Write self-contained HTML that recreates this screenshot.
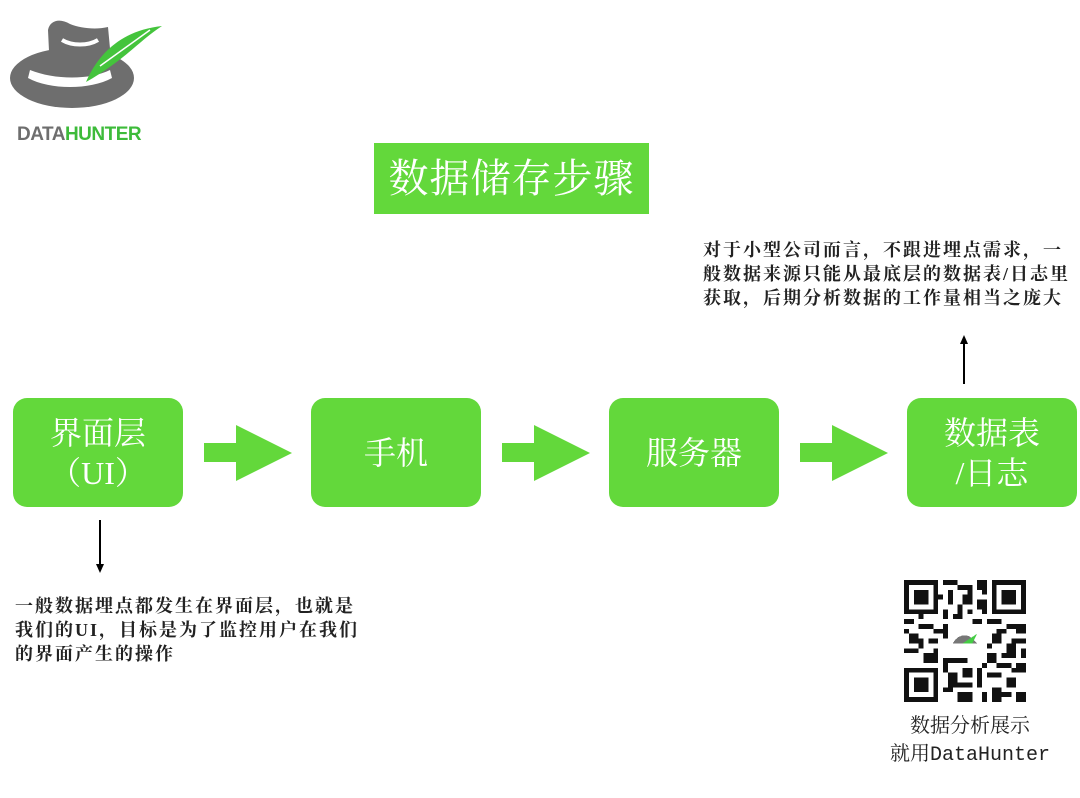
<!DOCTYPE html>
<html><head><meta charset="utf-8"><style>
body{margin:0;width:1080px;height:798px;background:#fff;position:relative;overflow:hidden;font-family:"Liberation Serif","Noto Serif CJK SC",serif;}
.box{position:absolute;background:#63d83b;border-radius:14px;color:#fff;display:flex;align-items:center;justify-content:center;text-align:center;font-size:32px;line-height:40px;width:170px;height:109px;top:398px}
.arr{position:absolute;top:425px;width:88px;height:56px}
.t{position:absolute;font-size:18px;letter-spacing:2px;line-height:24px;font-weight:bold;color:#222;white-space:nowrap}
</style></head><body>
<svg style="position:absolute;left:0;top:0" width="170" height="120" viewBox="0 0 170 120">
<ellipse cx="72" cy="78" rx="62" ry="30" fill="#6e6e6e"/>
<path d="M48 30 C50 20 60 18 70 24 C80 28 95 30 108 27 L112 70 L50 72Z" fill="#6e6e6e"/>
<path d="M28 78 C50 90 90 90 112 78 L110 70 C90 80 55 80 30 70Z" fill="#fff"/>
<path d="M62 40 C72 46 88 46 98 40" stroke="#fff" stroke-width="4" fill="none"/>
<path d="M86 82 C100 50 125 30 162 26 C140 40 125 60 86 82Z" fill="#44c43c"/>
<path d="M100 66 L150 30" stroke="#fff" stroke-width="1.5"/>
</svg>
<div style="position:absolute;left:17px;top:124px;font-family:'Liberation Sans',sans-serif;font-weight:bold;font-size:19px;letter-spacing:-0.5px"><span style="color:#6e6e6e">DATA</span><span style="color:#3dbb3a">HUNTER</span></div>
<div style="position:absolute;left:374px;top:143px;width:275px;height:71px;background:#63d83b;color:#fff;font-size:40px;line-height:71px;text-align:center;letter-spacing:1px">数据储存步骤</div>
<div class="box" style="left:13px">界面层<br>（UI）</div>
<div class="box" style="left:311px">手机</div>
<div class="box" style="left:609px">服务器</div>
<div class="box" style="left:907px">数据表<br>/日志</div>
<svg class="arr" style="left:204px" viewBox="0 0 88 56"><path d="M0 18H32V0L88 28L32 56V37H0Z" fill="#63d83b"/></svg>
<svg class="arr" style="left:502px" viewBox="0 0 88 56"><path d="M0 18H32V0L88 28L32 56V37H0Z" fill="#63d83b"/></svg>
<svg class="arr" style="left:800px" viewBox="0 0 88 56"><path d="M0 18H32V0L88 28L32 56V37H0Z" fill="#63d83b"/></svg>
<svg style="position:absolute;left:0;top:0" width="1080" height="798"><line x1="100" y1="520" x2="100" y2="566" stroke="#000" stroke-width="2"/><path d="M96 564L100 573L104 564Z"/>
<line x1="964" y1="384" x2="964" y2="342" stroke="#000" stroke-width="2"/><path d="M960 344L964 335L968 344Z"/></svg>
<div class="t" style="left:703px;top:238px">对于小型公司而言，不跟进埋点需求，一<br>般数据来源只能从最底层的数据表/日志里<br>获取，后期分析数据的工作量相当之庞大</div>
<div class="t" style="left:15px;top:594px">一般数据埋点都发生在界面层，也就是<br>我们的UI，目标是为了监控用户在我们<br>的界面产生的操作</div>
<svg style="position:absolute;left:904px;top:580px" width="122" height="122" viewBox="0 0 25 25" shape-rendering="crispEdges">
<rect width="25" height="25" fill="#fff"/>
<g fill="#111"><path d="M0 0h7v7H0zM18 0h7v7h-7zM0 18h7v7H0z"/></g>
<g fill="#fff"><path d="M1 1h5v5H1zM19 1h5v5h-5zM1 19h5v5H1z"/></g>
<g fill="#111"><path d="M2 2h3v3H2zM20 2h3v3h-3zM2 20h3v3H2z"/>
<path d="M8 0h2v1H8zM11 1h3v1h-3zM9 2h1v3H9zM12 3h2v2h-2zM15 0h2v2h-2zM15 4h2v2h-2zM8 6h1v2H8zM10 7h2v1h-2zM0 8h2v1H0zM3 9h3v1H3zM1 11h2v2H1zM5 12h2v1H5zM0 14h3v1H0zM4 15h3v2H4zM8 9h1v3H8zM17 8h3v1h-3zM21 9h4v1h-4zM18 11h2v2h-2zM22 12h3v1h-3zM17 15h2v2h-2zM20 15h3v1h-3zM23 17h2v2h-2zM8 16h3v1H8zM12 18h2v2h-2zM9 19h2v3H9zM15 18h1v4h-1zM17 19h3v1h-3zM21 20h2v2h-2zM18 22h2v3h-2zM11 23h3v2h-3zM23 23h2v2h-2zM14 8h2v1h-2zM11 16h2v1h-2z
M10 0h1v1h-1zM13 2h1v1h-1zM16 2h1v1h-1zM7 3h1v1H7zM11 5h1v2h-1zM13 6h1v1h-1zM16 6h1v1h-1zM3 7h1v1H3zM6 10h2v1H6zM0 10h1v1H0zM3 12h1v2H3zM6 14h1v1H6zM19 10h2v1h-2zM23 10h2v1h-2zM17 13h1v1h-1zM21 13h2v2h-2zM24 14h1v2h-1zM19 17h3v1h-3zM8 17h1v2H8zM11 21h3v1h-3zM16 17h1v1h-1zM16 23h1v2h-1zM20 23h2v1h-2zM22 18h1v1h-1zM13 21h1v1h-1zM8 22h2v1H8z"/></g>
<rect x="9" y="9" width="7" height="7" fill="#fff"/><path d="M10 13 C11 11 13 11 14 12 L15 13 Z" fill="#777"/><path d="M12 13 L15 11 L14 13Z" fill="#4c4"/>
</svg>
<div style="position:absolute;left:880px;top:714px;width:180px;text-align:center;font-size:20px;line-height:28px;color:#222;font-family:'Liberation Mono','Noto Serif CJK SC',monospace">数据分析展示<br>就用DataHunter</div>
</body></html>
